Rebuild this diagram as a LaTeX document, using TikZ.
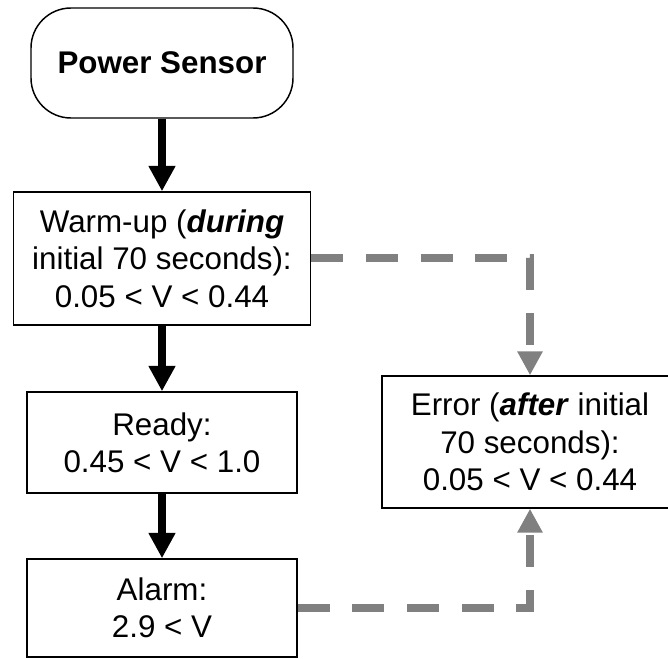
\documentclass[tikz,border=0pt]{standalone}
\usepackage{fontspec}
\setmainfont{Liberation Sans}
\usepackage{tikz}
\usetikzlibrary{arrows.meta}
\definecolor{dashgray}{RGB}{128,128,128}
\tikzset{termbox/.style={draw=black,line width=1.1pt,rounded corners=30pt,fill=white,align=center,minimum width=196.5pt,minimum height=82.5pt,font=\fontsize{23.5}{28}\selectfont\bfseries},statebox/.style={draw=black,line width=1.1pt,fill=white,align=center,inner sep=0pt,font=\fontsize{23.5}{28}\selectfont},flow/.style={-{Triangle[width=19pt,length=19pt]},line width=5.5pt,black},fault/.style={-{Triangle[width=18pt,length=18pt]},line width=6pt,dashgray,dash pattern=on 24pt off 17pt}}

\begin{document}
\begin{tikzpicture}[x=0.75pt,y=-0.75pt]
\useasboundingbox (0,0) rectangle (668,659);
\clip (0,0) rectangle (668,659);
\node[termbox] (sensor) at (162,63) {Power Sensor};
\node[statebox,minimum width=222.75pt,minimum height=99.75pt] (warmup) at (162,258.5) {Warm-up (\textbf{\textit{during}}\\initial 70 seconds):\\0.05 < V < 0.44};
\node[statebox,minimum width=202.5pt,minimum height=75.75pt] (ready) at (162,442.5) {Ready:\\0.45 < V < 1.0};
\node[statebox,minimum width=202.5pt,minimum height=73.5pt] (alarm) at (162,608) {Alarm:\\2.9 < V};
\node[statebox,minimum width=222pt,minimum height=99pt] (error) at (530,442) {Error (\textbf{\textit{after}} initial\\70 seconds):\\0.05 < V < 0.44};
\draw[flow] (sensor) -- (warmup);
\draw[flow] (warmup) -- (ready);
\draw[flow] (ready) -- (alarm);
\draw[fault] (warmup.east) -| (error.north);
\draw[fault] (alarm.east) -| (error.south);
\end{tikzpicture}
\end{document}
